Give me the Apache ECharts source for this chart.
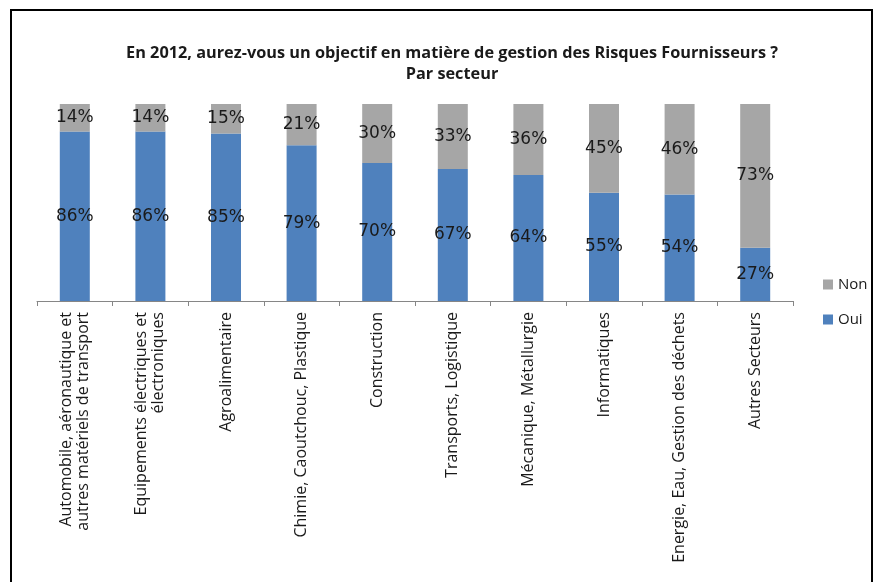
<!DOCTYPE html>
<html>
<head>
<meta charset="utf-8">
<script src="https://cdn.jsdelivr.net/npm/echarts@6/dist/echarts.min.js"></script>
<style>html,body{margin:0;padding:0;background:#fff;}#c{width:878px;height:582px;}</style>
</head>
<body>
<div id="c"></div>
<script>
const categories = [
  "Automobile, aéronautique et\nautres matériels de transport",
  "Equipements électriques et\nélectroniques",
  "Agroalimentaire",
  "Chimie, Caoutchouc, Plastique",
  "Construction",
  "Transports, Logistique",
  "Mécanique, Métallurgie",
  "Informatiques",
  "Energie, Eau, Gestion des déchets",
  "Autres Secteurs"
];
const oui = [86, 86, 85, 79, 70, 67, 64, 55, 54, 27];
const non = [14, 14, 15, 21, 30, 33, 36, 45, 46, 73];
const titleLines = ["En 2012, aurez-vous un objectif en matière de gestion des Risques Fournisseurs ?", "Par secteur"];

const chart = echarts.init(document.getElementById('c'), null, {renderer: 'canvas'});
const labelStyle = {
  show: true, position: 'inside', formatter: '{c}%',
  fontFamily: 'DejaVu Sans', fontSize: 17, color: '#1a1a1a'
};
chart.setOption({
  animation: false,
  backgroundColor: '#fff',
  title: {
    text: titleLines.join('\n'),
    left: 447, top: 38, textAlign: 'center',
    textStyle: {fontFamily: 'Open Sans', fontWeight: 'bold', fontSize: 16.3, color: '#1a1a1a', lineHeight: 21}
  },
  graphic: [{
    type: 'rect', shape: {x: 11, y: 10, width: 861, height: 600},
    style: {fill: 'none', stroke: '#000', lineWidth: 2}, silent: true
  }],
  legend: {
    data: ['Non', 'Oui'], orient: 'vertical', left: 818, top: 272,
    itemWidth: 10, itemHeight: 10, itemGap: 20, icon: 'rect',
    textStyle: {fontFamily: 'Open Sans', fontSize: 15, color: '#1a1a1a'}
  },
  grid: {left: 37, right: 85, top: 104, bottom: 281, containLabel: false},
  xAxis: {
    type: 'category', data: categories,
    axisLine: {lineStyle: {color: '#868686', width: 1}},
    axisTick: {show: true, length: 5, alignWithLabel: false, lineStyle: {color: '#868686'}},
    axisLabel: {rotate: 90, interval: 0, margin: 11, fontFamily: 'Open Sans', fontSize: 16, lineHeight: 17, color: '#1a1a1a'}
  },
  yAxis: {type: 'value', min: 0, max: 100, show: false, splitLine: {show: false}},
  series: [
    {name: 'Oui', type: 'bar', stack: 'total', data: oui, barWidth: 30,
     itemStyle: {color: '#4F81BD'}, label: labelStyle},
    {name: 'Non', type: 'bar', stack: 'total', data: non, barWidth: 30,
     itemStyle: {color: '#A6A6A6'}, label: labelStyle}
  ]
});
</script>
</body>
</html>
